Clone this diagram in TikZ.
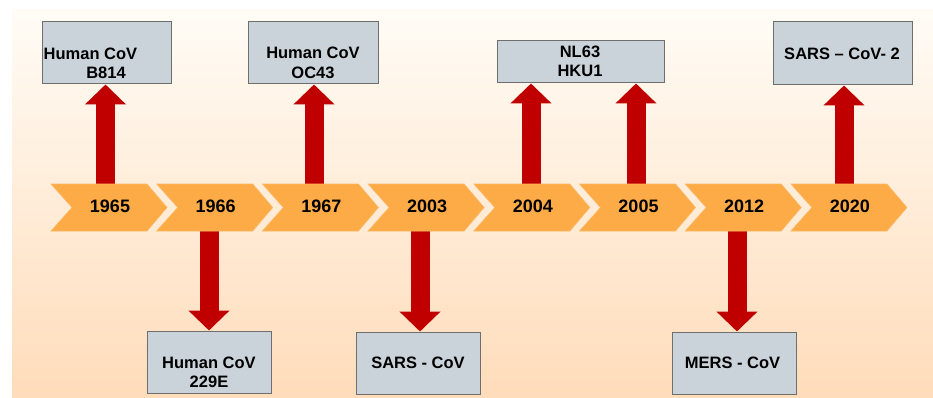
\documentclass[tikz,border=0pt]{standalone}
\usepackage{fontspec}
\setmainfont{Liberation Sans}
\usetikzlibrary{arrows.meta}
\definecolor{bgtop}{HTML}{FFFCF6}
\definecolor{bgmid}{HTML}{FFF3E4}
\definecolor{bgbot}{HTML}{FFDCBA}
\definecolor{chevfill}{HTML}{FDAB47}
\definecolor{boxfill}{HTML}{CBD3DA}
\definecolor{boxline}{HTML}{6E6E6E}
\definecolor{arrred}{HTML}{C00000}
\tikzset{
  chev/.style={fill=chevfill, draw=chevfill!85!white, line width=0.6pt},
  yearlbl/.style={font=\bfseries\fontsize{18}{21}\selectfont, inner sep=0pt, anchor=base},
  boxnode/.style={draw=boxline, fill=boxfill, line width=1pt, inner sep=0pt, rectangle},
  boxlbl/.style={font=\bfseries\fontsize{16.5}{19}\selectfont, inner sep=0pt, anchor=base},
  blockarrow/.style={draw=arrred, line width=19pt, -{Triangle[width=40pt,length=20pt]}}
}
\begin{document}
\begin{tikzpicture}[x=1pt,y=-1pt]
\useasboundingbox (0,0) rectangle (933,398);
\shade[top color=bgtop, middle color=bgmid, bottom color=bgbot] (12,10) rectangle (933,398);

% boxes
\node[boxnode, minimum width=129pt, minimum height=62pt] (b1965) at (106.5,53) {};
\node[boxnode, minimum width=130pt, minimum height=62pt] (b1967) at (313,53) {};
\node[boxnode, minimum width=167pt, minimum height=42pt] (b2004) at (580.5,62) {};
\node[boxnode, minimum width=139pt, minimum height=63pt] (b2020) at (842.5,53.5) {};
\node[boxnode, minimum width=124pt, minimum height=62pt] (b1966) at (209,362) {};
\node[boxnode, minimum width=124pt, minimum height=62pt] (b2003) at (418,363) {};
\node[boxnode, minimum width=124pt, minimum height=62pt] (b2012) at (734,363) {};

% box labels
\node[boxlbl] (t1965a) at (90.5,59.3) {Human CoV};
\node[boxlbl] (t1965b) at (106,79) {B814};
\node[boxlbl] (t1967a) at (313,59) {Human CoV};
\node[boxlbl] (t1967b) at (313,78.5) {OC43};
\node[boxlbl] (t2004a) at (580,57.3) {NL63};
\node[boxlbl] (t2004b) at (580,76.7) {HKU1};
\node[boxlbl] (t2020) at (842,60) {SARS – CoV- 2};
\node[boxlbl] (t1966a) at (209,368) {Human CoV};
\node[boxlbl] (t1966b) at (209,387) {229E};
\node[boxlbl] (t2003) at (418,368) {SARS - CoV};
\node[boxlbl] (t2012) at (732.5,368) {MERS - CoV};

% arrow start coordinates (hidden under the chevrons)
\coordinate (a1965) at (105.5,200);
\coordinate (a1967) at (314,200);
\coordinate (a2004) at (531,200);
\coordinate (a2005) at (636,200);
\coordinate (a2020) at (844,200);
\coordinate (a1966) at (209,215);
\coordinate (a2003) at (420,215);
\coordinate (a2012) at (737,215);

\draw[blockarrow] (a1965) -- (b1965.south -| a1965);
\draw[blockarrow] (a1967) -- (b1967.south -| a1967);
\draw[blockarrow] (a2004) -- (b2004.south -| a2004);
\draw[blockarrow] (a2005) -- (b2004.south -| a2005);
\draw[blockarrow] (a2020) -- (b2020.south -| a2020);
\draw[blockarrow] (a1966) -- (b1966.north -| a1966);
\draw[blockarrow] (a2003) -- (b2003.north -| a2003);
\draw[blockarrow] (a2012) -- (b2012.north -| a2012);

% chevrons
\foreach \i/\yr in {0/1965,1/1966,2/1967,3/2003,4/2004,5/2005,6/2012,7/2020}{
  \pgfmathsetmacro{\L}{51+105.7*\i}
  \fill[chev] (\L,184) -- (\L+96,184) -- (\L+116,207.5) -- (\L+96,231) -- (\L,231) -- (\L+21,207.5) -- cycle;
  \node[yearlbl] (y\yr) at (\L+59,212.5) {\yr};
}
\end{tikzpicture}
\end{document}
